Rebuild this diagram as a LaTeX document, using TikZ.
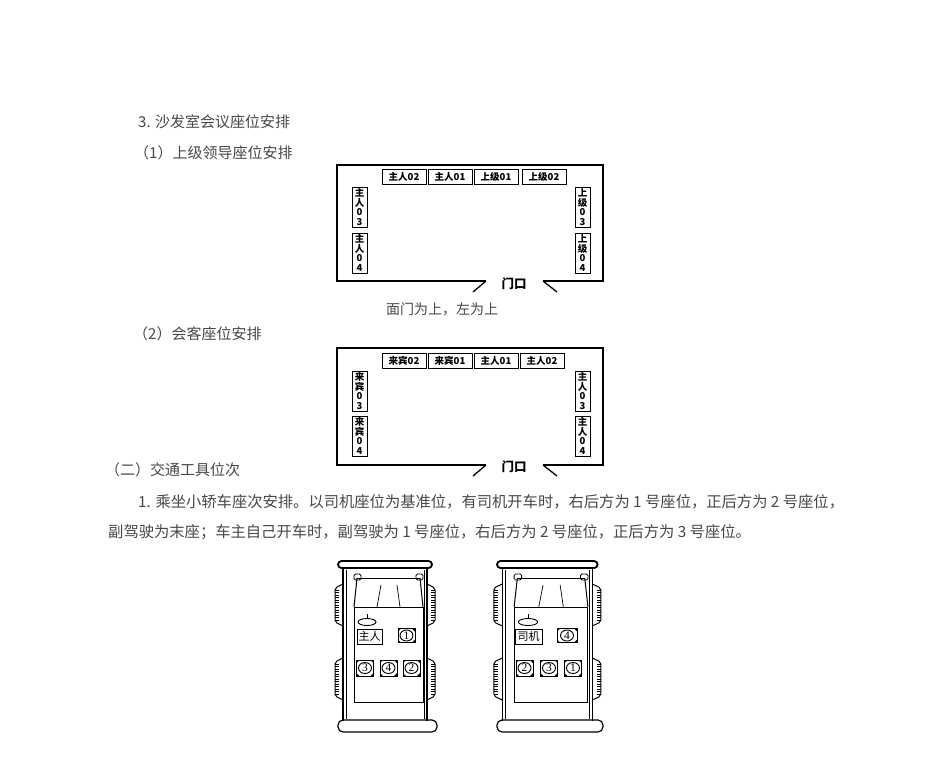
\documentclass[tikz,border=0pt]{standalone}
\usepackage{fontspec}
\setmainfont{Noto Sans CJK SC}
\newfontfamily\numfont{Liberation Serif}
\usepackage{tikz}
\usetikzlibrary{positioning}
\usetikzlibrary{calc}
\definecolor{textgray}{gray}{0.28}

\tikzset{
  room/.style={line width=1.3pt},
  seat/.style={draw, line width=1pt, minimum width=44, minimum height=15, inner sep=0pt,
    font=\bfseries\fontsize{9.5}{10}\selectfont},
  sideseat/.style={draw, line width=1pt, minimum width=15, minimum height=40, inner sep=0pt,
    align=center, font=\bfseries\fontsize{9.5}{9.6}\selectfont},
  door/.style={font=\bfseries\fontsize{12.5}{13}\selectfont, inner sep=0pt},
  heading/.style={text=textgray, font=\fontsize{15}{17}\selectfont, inner sep=0pt, anchor=west},
  note/.style={text=textgray, font=\fontsize{14}{15}\selectfont, inner sep=0pt},
  carlabel/.style={draw, line width=1pt, minimum width=25, minimum height=15, inner sep=1pt,
    font=\fontsize{11}{11}\selectfont},
  numseat/.style={draw, line width=1pt, minimum width=17, minimum height=14, inner sep=0pt,
    font=\numfont\fontsize{11.5}{10}\selectfont,
    path picture={
      \draw[line width=0.9pt] (path picture bounding box.center) ellipse (6.5pt and 5.5pt);
      \fill (path picture bounding box.north west) -- ++(3pt,0pt) -- ++(-3pt,-3pt) -- cycle;
      \fill (path picture bounding box.north east) -- ++(-3pt,0pt) -- ++(3pt,-3pt) -- cycle;
      \fill (path picture bounding box.south west) -- ++(3pt,0pt) -- ++(-3pt,3pt) -- cycle;
      \fill (path picture bounding box.south east) -- ++(-3pt,0pt) -- ++(3pt,3pt) -- cycle;
    }},
  % top view of a car, origin at the left end of the front bumper
  carbody/.pic={
    \draw[line width=1.8pt, rounded corners=3.5] (0,0) rectangle (94,7);
    \draw[line width=1.2pt] (5,7) -- (5,160) (89,7) -- (89,160);
    \draw[line width=0.6pt] (8,9) -- (8,158) (86,9) -- (86,158);
    \draw[line width=1.2pt, rounded corners=5] (0,159) rectangle (99,171);
    % wheels
    \foreach \y in {23,97} {
      \draw[line width=1pt, rounded corners=2] (5,\y) -- (-3,\y+4) -- (-3,\y+38) -- (5,\y+42);
      \draw[line width=1pt, rounded corners=2] (89,\y) -- (97,\y+4) -- (97,\y+38) -- (89,\y+42);
      \foreach \t in {0,...,12} {
        \draw[line width=0.4pt] (-3,\y+6+2.5*\t) -- (1,\y+6+2.5*\t);
        \draw[line width=0.4pt] (97,\y+6+2.5*\t) -- (93,\y+6+2.5*\t);
      }
    }
    % windshield and cabin
    \draw[line width=1pt] (19,17) -- (82,17);
    \draw[line width=1pt] (19,17) -- (16,46) (82,17) -- (85,46);
    \draw[line width=0.7pt] (43,24) -- (39,46) (59,24) -- (62,46);
    \draw[line width=1pt] (16,46) rectangle (85,141);
    % mirrors
    \draw[line width=0.8pt, rounded corners=1.5] (16,13) rectangle (23,19);
    \draw[line width=0.8pt, rounded corners=1.5] (78,13) rectangle (85,19);
    % steering wheel
    \draw[line width=0.9pt] (29,61) ellipse (9pt and 3.5pt);
    \draw[line width=0.9pt] (29,57.5) -- (29,53);
  }
}

\begin{document}
\begin{tikzpicture}[x=1pt, y=-1pt]
  \useasboundingbox (0,0) rectangle (952,776);

  % Headings
  \node[heading] (title3) at (138,122) {3. 沙发室会议座位安排};
  \node[heading] (sub1) at (134,153) {（1）上级领导座位安排};

  % First room: leaders
  \coordinate (r1dl) at (486,281);
  \coordinate (r1dr) at (543,281);
  \draw[room] (r1dl) -- (337,281) -- (337,165) -- (603,165) -- (603,281) -- (r1dr);
  \draw[room] (r1dl) -- ++(-13,11);
  \draw[room] (r1dr) -- ++(14,11);
  \node[door] (door1) at (514,284) {门口};

  \node[seat] (h02) at (404,176.5) {主人02};
  \node[seat] (h01) at (450,176.5) {主人01};
  \node[seat] (s01) at (496,176.5) {上级01};
  \node[seat] (s02) at (544,176.5) {上级02};
  \node[sideseat] (h03) at (359.5,207) {主\\人\\0\\3};
  \node[sideseat, below=5pt of h03] (h04) {主\\人\\0\\4};
  \node[sideseat] (s03) at (582.5,207) {上\\级\\0\\3};
  \node[sideseat, below=5pt of s03] (s04) {上\\级\\0\\4};

  \node[note] (rule1) at (442,309) {面门为上，左为上};

  % Second room: guests
  \node[heading] (sub2) at (133,334) {（2）会客座位安排};
  \coordinate (r2dl) at (486,465);
  \coordinate (r2dr) at (543,465);
  \draw[room] (r2dl) -- (337,465) -- (337,348) -- (603,348) -- (603,465) -- (r2dr);
  \draw[room] (r2dl) -- ++(-13,11);
  \draw[room] (r2dr) -- ++(14,11);
  \node[door] (door2) at (514,467) {门口};

  \node[seat] (g02) at (404,360.5) {来宾02};
  \node[seat] (g01) at (450,360.5) {来宾01};
  \node[seat] (m01) at (496,360.5) {主人01};
  \node[seat] (m02) at (542,360.5) {主人02};
  \node[sideseat] (g03) at (359.5,391) {来\\宾\\0\\3};
  \node[sideseat, below=4pt of g03] (g04) {来\\宾\\0\\4};
  \node[sideseat] (m03) at (582.5,391) {主\\人\\0\\3};
  \node[sideseat, below=4pt of m03] (m04) {主\\人\\0\\4};

  % Vehicles
  \node[heading] (sec2) at (105,470) {（二）交通工具位次};
  \node[heading, font=\fontsize{15.3}{17}\selectfont] (line1) at (138,502) {1. 乘坐小轿车座次安排。以司机座位为基准位，有司机开车时，右后方为 1 号座位，正后方为 2 号座位，};
  \node[heading, font=\fontsize{15.3}{17}\selectfont] (line2) at (108,532) {副驾驶为末座；车主自己开车时，副驾驶为 1 号座位，右后方为 2 号座位，正后方为 3 号座位。};

  % Car with a driver
  \pic (carA) at (338,561) {carbody};
  \node[carlabel] (ownerA) at (369.5,636.5) {主人};
  \node[numseat] (a1) at (406.5,635.5) {1};
  \node[numseat, minimum height=16] (a3) at (365,668) {3};
  \node[numseat, minimum height=16] (a4) at (388.5,668) {4};
  \node[numseat, minimum height=16] (a2) at (411.5,668) {2};

  % Car driven by the owner
  \pic[xscale=1.07] (carB) at (497,561) {carbody};
  \node[carlabel, minimum width=27] (driverB) at (528.5,636.5) {司机};
  \node[numseat, minimum width=20] (b4) at (567,635.5) {4};
  \node[numseat, minimum height=16] (b2) at (524.5,668) {2};
  \node[numseat, minimum height=16] (b3) at (549,668) {3};
  \node[numseat, minimum height=16] (b1) at (573,668) {1};
\end{tikzpicture}
\end{document}
